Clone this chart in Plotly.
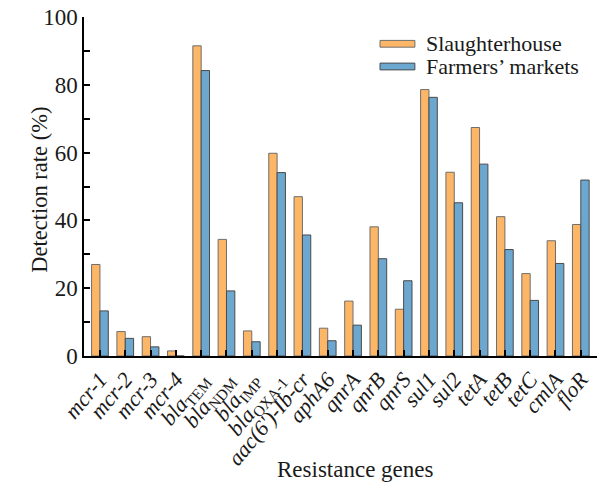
import plotly.graph_objects as go

genes = ["<i>mcr-1</i>", "<i>mcr-2</i>", "<i>mcr-3</i>", "<i>mcr-4</i>",
         "<i>bla</i><sub>TEM</sub>", "<i>bla</i><sub>NDM</sub>", "<i>bla</i><sub>IMP</sub>",
         "<i>bla</i><sub>OXA-1</sub>", "<i>aac(6')-Ib-cr</i>", "<i>aphA6</i>",
         "<i>qnrA</i>", "<i>qnrB</i>", "<i>qnrS</i>", "<i>sul1</i>", "<i>sul2</i>",
         "<i>tetA</i>", "<i>tetB</i>", "<i>tetC</i>", "<i>cmlA</i>", "<i>floR</i>"]
slaughterhouse = [27.0, 7.2, 5.7, 1.5, 91.5, 34.4, 7.4, 59.8, 47.0, 8.2,
                  16.2, 38.1, 13.8, 78.6, 54.2, 67.4, 41.1, 24.3, 34.0, 38.8]
farmers = [13.3, 5.2, 2.7, 0.0, 84.2, 19.2, 4.2, 54.1, 35.7, 4.5,
           9.1, 28.7, 22.2, 76.3, 45.2, 56.6, 31.4, 16.4, 27.3, 51.9]
y_ticks = [0, 20, 40, 60, 80, 100]
series_names = ["Slaughterhouse", "Farmers’ markets"]
series_colors = ["#FDB666", "#6CA7D0"]
series_lines = ["#6e6e6e", "#4a4a4a"]

xs = list(range(len(genes)))
font = "Liberation Serif, Times New Roman, serif"

fig = go.Figure()
for vals, name, col, lc in zip([slaughterhouse, farmers], series_names, series_colors, series_lines):
    fig.add_trace(go.Bar(x=xs, y=vals, name=name,
                         marker=dict(color=col, line=dict(color=lc, width=1))))

# manual legend (wide flat swatches like the reference)
leg_y = [0.921, 0.854]
for i, (name, col, lc) in enumerate(zip(series_names, series_colors, series_lines)):
    fig.add_shape(type="rect", xref="paper", yref="paper",
                  x0=0.577, x1=0.645, y0=leg_y[i] - 0.010, y1=leg_y[i] + 0.010,
                  fillcolor=col, line=dict(color=lc, width=1))
    fig.add_annotation(xref="paper", yref="paper", x=0.663, y=leg_y[i],
                       xanchor="left", yanchor="middle", text=name, showarrow=False,
                       font=dict(size=22))

# axis titles
fig.add_annotation(xref="paper", yref="paper", x=0.53, y=-0.336,
                   xanchor="center", yanchor="middle", text="Resistance genes",
                   showarrow=False, font=dict(size=23))
fig.add_annotation(xref="paper", yref="paper", x=-0.086, y=0.49,
                   xanchor="center", yanchor="middle", text="Detection rate (%)",
                   textangle=-90, showarrow=False, font=dict(size=22.5))

fig.update_layout(
    width=602, height=496,
    margin=dict(l=84, r=5, t=17, b=140),
    plot_bgcolor="white", paper_bgcolor="white",
    barmode="group", bargap=0.34, bargroupgap=0,
    font=dict(family=font, size=22, color="#1a1a1a"),
    showlegend=False,
    xaxis=dict(
        range=[-0.63, 19.64], tickmode="array", tickvals=xs, ticktext=genes,
        tickangle=-50, ticks="inside", ticklen=6, tickwidth=2, tickcolor="black",
        showline=True, linecolor="black", linewidth=1.5, showgrid=False,
        tickfont=dict(size=22), automargin=False, ticklabeloverflow="allow",
    ),
    yaxis=dict(
        range=[0, 100], tickvals=y_ticks, ticks="inside", ticklen=6, tickwidth=1.5,
        tickcolor="black", showline=True, linecolor="black", linewidth=1.5,
        showgrid=False, zeroline=False, tickfont=dict(size=23), automargin=False,
        ticklabeloverflow="allow",
        minor=dict(dtick=10, ticks="inside", ticklen=6, tickwidth=1.5, tickcolor="black"),
    ),
)

fig.write_html("out.html", config={"displayModeBar": False},
               post_script="document.body.style.margin='0px';")
